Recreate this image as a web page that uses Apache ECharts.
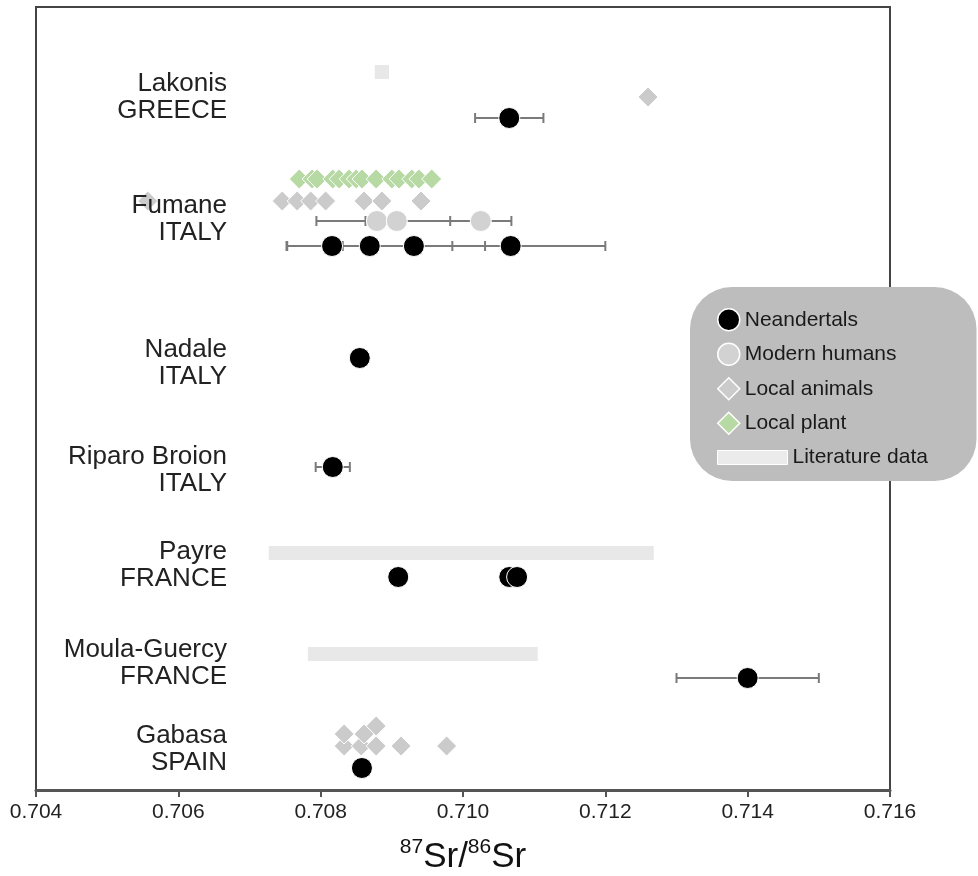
<!DOCTYPE html>
<html>
<head>
<meta charset="utf-8">
<script src="https://cdn.jsdelivr.net/npm/echarts@6/dist/echarts.min.js"></script>
<style>html,body{margin:0;padding:0;background:#fff}#c{width:978px;height:876px}</style>
</head>
<body>
<div id="c"></div>
<script>
// ---------------- DATA ----------------
const sites = ['Lakonis', 'Fumane', 'Nadale', 'Riparo Broion', 'Payre', 'Moula-Guercy', 'Gabasa'];
const countries = ['GREECE', 'ITALY', 'ITALY', 'ITALY', 'FRANCE', 'FRANCE', 'SPAIN'];
const xTickValues = [0.704, 0.706, 0.708, 0.710, 0.712, 0.714, 0.716];

const neanderSite = ['Lakonis', 'Fumane', 'Fumane', 'Fumane', 'Fumane', 'Nadale', 'Riparo Broion', 'Payre', 'Payre', 'Payre', 'Moula-Guercy', 'Gabasa'];
const neanderSr   = [0.71065, 0.70816, 0.70869, 0.70931, 0.71067, 0.70855, 0.70817, 0.70909, 0.71065, 0.71076, 0.71400, 0.70858];
const neanderErr  = [0.00048, 0.00064, 0.00116, 0.00100, 0.00133, 0.00010, 0.00024, 0, 0, 0, 0.00100, 0];

const modernSite = ['Fumane', 'Fumane', 'Fumane'];
const modernSr   = [0.70879, 0.70907, 0.71025];
const modernErr  = [0.00016, 0.00113, 0.00043];

const animalSite = ['Lakonis',
  'Fumane', 'Fumane', 'Fumane', 'Fumane', 'Fumane', 'Fumane', 'Fumane', 'Fumane',
  'Gabasa', 'Gabasa', 'Gabasa', 'Gabasa', 'Gabasa', 'Gabasa', 'Gabasa', 'Gabasa'];
const animalSr = [0.71260,
  0.70557, 0.70746, 0.70767, 0.70786, 0.70807, 0.70861, 0.70886, 0.70941,
  0.70833, 0.70833, 0.70857, 0.70861, 0.70878, 0.70878, 0.70913, 0.70977];

const plantSite = ['Fumane', 'Fumane', 'Fumane', 'Fumane', 'Fumane', 'Fumane', 'Fumane',
  'Fumane', 'Fumane', 'Fumane', 'Fumane', 'Fumane', 'Fumane', 'Fumane'];
const plantSr = [0.70770, 0.70788, 0.70795, 0.70817, 0.70826, 0.70840, 0.70850,
  0.70858, 0.70878, 0.70900, 0.70910, 0.70928, 0.70938, 0.70956];

const litSite = ['Lakonis', 'Payre', 'Moula-Guercy'];
const litLow  = [0.70876, 0.70727, 0.70782];
const litHigh = [0.70896, 0.71268, 0.71105];

// ---------------- LAYOUT (vertical placement, axis units) ----------------
const siteCenter = {'Lakonis': 88, 'Fumane': 210, 'Nadale': 354, 'Riparo Broion': 461, 'Payre': 556, 'Moula-Guercy': 654, 'Gabasa': 740};
const laneOffset = {
  lit:     {'Lakonis': -23, 'Payre': -10, 'Moula-Guercy': -7},
  animal:  {'Lakonis': 2, 'Fumane': -16, 'Gabasa': -1},
  plant:   {'Fumane': -38},
  modern:  {'Fumane': 4},
  neander: {'Lakonis': 23, 'Fumane': 29, 'Nadale': -3, 'Riparo Broion': -1, 'Payre': 14, 'Moula-Guercy': 17, 'Gabasa': 21}
};
const stackedSites = {'Gabasa': true}; // animals stacked into lanes when overlapping
const stackLanes = [0, -12, -20, -28], overlapGap = 0.0002;

function rowY(type, site) { return siteCenter[site] + (laneOffset[type][site] || 0); }

function buildPoints(type, siteArr, valArr) {
  const lanesBySite = {};
  const order = valArr.map((v, i) => i).sort((a, b) => valArr[a] - valArr[b]);
  const res = new Array(valArr.length);
  order.forEach(i => {
    const s = siteArr[i], v = valArr[i];
    let y = rowY(type, s);
    if (stackedSites[s] && type === 'animal') {
      const lanes = lanesBySite[s] || (lanesBySite[s] = []);
      let k = 0;
      while (lanes[k] !== undefined && v - lanes[k] < overlapGap) k++;
      lanes[k] = v;
      y += stackLanes[Math.min(k, stackLanes.length - 1)];
    }
    res[i] = [v, y];
  });
  return res;
}

const neanderPts = buildPoints('neander', neanderSite, neanderSr);
const modernPts = buildPoints('modern', modernSite, modernSr);
const animalPts = buildPoints('animal', animalSite, animalSr);
const plantPts = buildPoints('plant', plantSite, plantSr);
const neanderErrData = neanderPts.map((p, i) => [p[0], p[1], neanderErr[i]]).filter(d => d[2] > 0);
const modernErrData = modernPts.map((p, i) => [p[0], p[1], modernErr[i]]).filter(d => d[2] > 0);
const litData = litSite.map((s, i) => [litLow[i], litHigh[i], rowY('lit', s)]);

// ---------------- CHART ----------------
const chart = echarts.init(document.getElementById('c'), null, {renderer: 'canvas'});
const FONT = '"Liberation Sans", Arial, sans-serif';

function errRender(color) {
  return function (params, api) {
    const x = api.value(0), y = api.value(1), e = api.value(2);
    const a = api.coord([x - e, y]), b = api.coord([x + e, y]);
    const cap = 5;
    const st = {stroke: color, lineWidth: 2};
    return {type: 'group', children: [
      {type: 'line', shape: {x1: a[0], y1: a[1], x2: b[0], y2: b[1]}, style: st},
      {type: 'line', shape: {x1: a[0], y1: a[1] - cap, x2: a[0], y2: a[1] + cap}, style: st},
      {type: 'line', shape: {x1: b[0], y1: b[1] - cap, x2: b[0], y2: b[1] + cap}, style: st}
    ]};
  };
}

const option = {
  animation: false,
  backgroundColor: '#ffffff',
  grid: {left: 36, right: 88, top: 7, bottom: 86, show: true, borderColor: '#444', borderWidth: 2,
    backgroundColor: 'transparent', containLabel: false, outerBoundsMode: 'none'},
  xAxis: {
    type: 'value',
    min: xTickValues[0], max: xTickValues[xTickValues.length - 1], interval: xTickValues[1] - xTickValues[0],
    splitLine: {show: false},
    axisLine: {show: true, onZero: false, lineStyle: {color: '#555', width: 3}},
    axisTick: {show: true, length: 7, lineStyle: {color: '#555', width: 2}},
    axisLabel: {color: '#222', fontSize: 21, fontFamily: FONT, margin: 12, formatter: v => v.toFixed(3)},
    name: '{sup|87}{big|Sr/}{sup|86}{big|Sr}',
    nameLocation: 'middle', nameGap: 45,
    nameTextStyle: {
      rich: {
        big: {fontSize: 35, fontFamily: FONT, color: '#111', lineHeight: 40, verticalAlign: 'bottom'},
        sup: {fontSize: 21, fontFamily: FONT, color: '#111', lineHeight: 40, verticalAlign: 'top', padding: [2, 0, 0, 0]}
      }
    }
  },
  yAxis: {type: 'value', min: 0, max: 783, inverse: true, show: false},
  legend: [
    {
      orient: 'vertical', left: 690, top: 287,
      padding: [21, 80, 46, 27],
      itemWidth: 22, itemHeight: 22, itemGap: 11, itemTextGap: 11,
      backgroundColor: '#bdbdbd', borderRadius: 42,
      selectedMode: false,
      textStyle: {fontSize: 21, fontFamily: FONT, color: '#1a1a1a'},
      data: [
        {name: 'Neandertals', icon: 'circle', itemStyle: {color: '#000', borderColor: '#fff', borderWidth: 1.5}},
        {name: 'Modern humans', icon: 'circle', itemStyle: {color: '#d2d2d2', borderColor: '#fff', borderWidth: 1.5}},
        {name: 'Local animals', icon: 'diamond', itemStyle: {color: '#cbcbcb', borderColor: '#fff', borderWidth: 1.5}},
        {name: 'Local plant', icon: 'diamond', itemStyle: {color: '#b7d9a3', borderColor: '#fff', borderWidth: 1.5}}
      ]
    },
    {
      orient: 'vertical', left: 717, top: 447, padding: 0,
      itemWidth: 70, itemHeight: 14, itemTextGap: 12,
      selectedMode: false,
      textStyle: {fontSize: 21, fontFamily: FONT, color: '#1a1a1a'},
      data: [{name: 'Literature data', icon: 'rect', itemStyle: {color: '#ebebeb', borderColor: '#fff', borderWidth: 1}}]
    }
  ],
  series: [
    {
      name: 'Literature data', type: 'custom', z: 1,
      data: litData,
      encode: {x: [0, 1], y: 2},
      renderItem: function (params, api) {
        const a = api.coord([api.value(0), api.value(2)]);
        const b = api.coord([api.value(1), api.value(2)]);
        const h = 14;
        return {type: 'rect', shape: {x: a[0], y: a[1] - h / 2, width: b[0] - a[0], height: h}, style: {fill: '#e8e8e8'}};
      }
    },
    {
      name: 'Local plant', type: 'scatter', z: 3, symbol: 'diamond', symbolSize: 20,
      itemStyle: {color: '#b7d9a3', borderColor: '#fff', borderWidth: 1, opacity: 1},
      data: plantPts
    },
    {
      name: 'Local animals', type: 'scatter', z: 3, symbol: 'diamond', symbolSize: 20,
      itemStyle: {color: '#cbcbcb', borderColor: '#fff', borderWidth: 1, opacity: 1},
      data: animalPts
    },
    {
      name: 'modernErr', type: 'custom', z: 2, data: modernErrData, encode: {x: 0, y: 1},
      renderItem: errRender('#7a7a7a')
    },
    {
      name: 'Modern humans', type: 'scatter', z: 4, symbol: 'circle', symbolSize: 21,
      itemStyle: {color: '#d2d2d2', borderColor: '#fff', borderWidth: 1, opacity: 1},
      data: modernPts
    },
    {
      name: 'neanderErr', type: 'custom', z: 2, data: neanderErrData, encode: {x: 0, y: 1},
      renderItem: errRender('#7a7a7a')
    },
    {
      name: 'Neandertals', type: 'scatter', z: 5, symbol: 'circle', symbolSize: 21,
      itemStyle: {color: '#000', borderColor: '#fff', borderWidth: 1, opacity: 1},
      data: neanderPts
    }
  ]
};
chart.setOption(option);

// site labels (text), placed from the y axis scale
const labelNudge = 2;
const graphics = sites.map((s, i) => {
  const py = chart.convertToPixel({yAxisIndex: 0}, siteCenter[s]) + labelNudge;
  return {
    type: 'text', x: 227, y: py, z: 10,
    style: {text: s + '\n' + countries[i], textAlign: 'right', textVerticalAlign: 'middle',
      font: '26px ' + FONT, lineHeight: 27, fill: '#222'}
  };
});
chart.setOption({graphic: graphics});
</script>
</body>
</html>
